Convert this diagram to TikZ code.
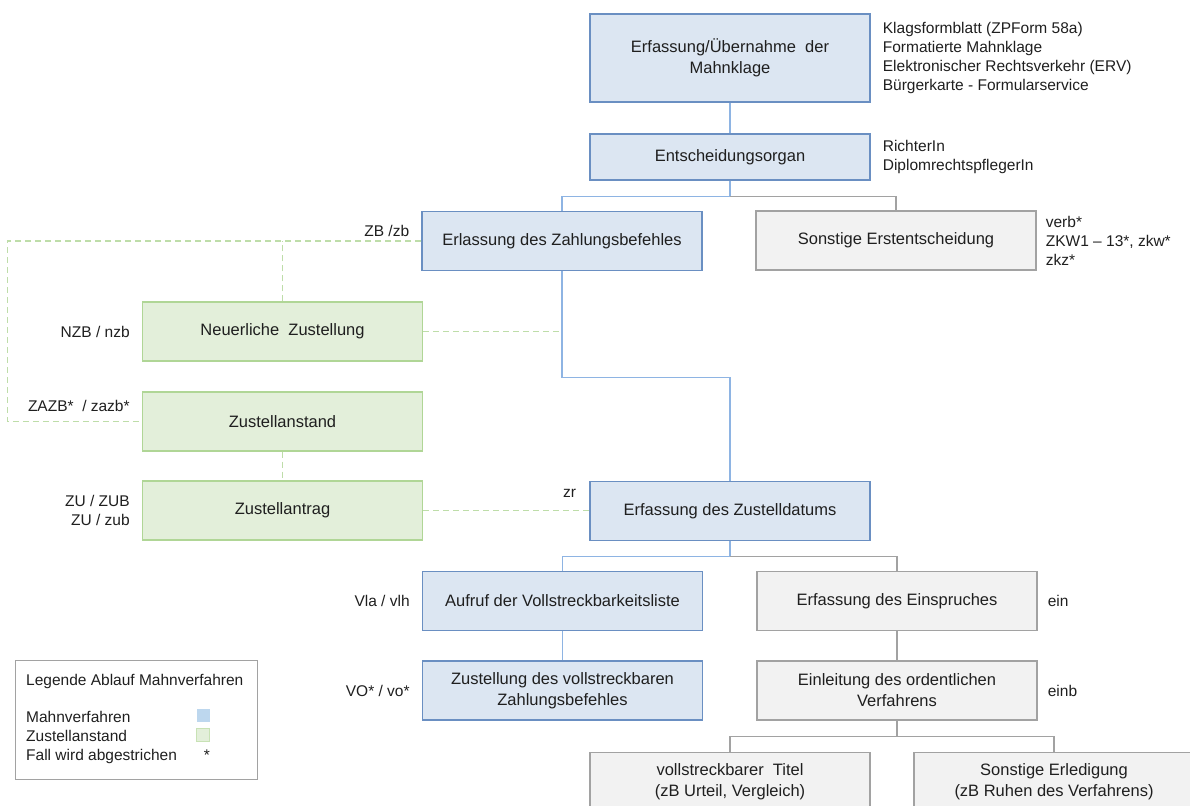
\documentclass[tikz,border=0pt]{standalone}
\usepackage{fontspec}
\setmainfont{Liberation Sans}

\definecolor{mvfill}{HTML}{DCE6F2}
\definecolor{mvline}{HTML}{6A8FC2}
\definecolor{mvconn}{HTML}{8EB4E3}
\definecolor{zafill}{HTML}{E3EFDA}
\definecolor{zaline}{HTML}{B0D696}
\definecolor{zadash}{HTML}{BEDDA9}
\definecolor{sofill}{HTML}{F2F2F2}
\definecolor{soline}{HTML}{A2A2A2}
\definecolor{legblue}{HTML}{BDD7EE}
\definecolor{txt}{HTML}{1F1F1F}

\tikzset{
  box/.style={minimum width=280, minimum height=59, inner sep=0, align=center,
    font=\fontsize{16.5}{21}\selectfont, text=txt, line width=1.3pt},
  mv/.style={box, fill=mvfill, draw=mvline},
  za/.style={box, fill=zafill, draw=zaline},
  so/.style={box, fill=sofill, draw=soline},
  lab/.style={inner sep=0, align=left, font=\fontsize{15.5}{19}\selectfont, text=txt},
  mvlink/.style={draw=mvconn, line width=1.2pt},
  solink/.style={draw=soline, line width=1.2pt},
  zalink/.style={draw=zadash, line width=1.2pt, dash pattern=on 6pt off 4pt},
}

\begin{document}
\begin{tikzpicture}[x=1pt,y=-1pt]
\useasboundingbox (0,0) rectangle (1190,805);
\clip (0,0) rectangle (1190,805);

% boxes
\node[mv, minimum height=88] (erfassung) at (730,58) {Erfassung/Übernahme\ \ der\\Mahnklage};
\node[mv, minimum height=46] (organ) at (730,157) {Entscheidungsorgan};
\node[mv] (erlassung) at (562,241) {Erlassung des Zahlungsbefehles};
\node[so] (sonstige) at (896,240.5) {Sonstige Erstentscheidung};
\node[za] (neuzust) at (282.5,331.5) {Neuerliche\ \ Zustellung};
\node[za] (anstand) at (282.5,421.5) {Zustellanstand};
\node[za] (antrag) at (282.5,510.5) {Zustellantrag};
\node[mv] (zustdat) at (730,511) {Erfassung des Zustelldatums};
\node[mv] (vliste) at (562.5,601) {Aufruf der Vollstreckbarkeitsliste};
\node[so] (einspruch) at (897,601) {Erfassung des Einspruches};
\node[mv] (vollzb) at (562.5,690.5) {Zustellung des vollstreckbaren\\Zahlungsbefehles};
\node[so] (ordentl) at (897,690.5) {Einleitung des ordentlichen\\Verfahrens};
\node[so] (titel) at (730,782) {vollstreckbarer\ \ Titel\\(zB Urteil, Vergleich)};
\node[so] (erledigung) at (1054,782) {Sonstige Erledigung\\(zB Ruhen des Verfahrens)};

% connectors
\draw[mvlink] (erfassung) -- (organ);
\draw[mvlink] (organ.south) -- ++(0,16) -| (erlassung.north);
\draw[solink] (organ.south) ++(0,16) -| (sonstige.north);
\draw[mvlink] (erlassung.south) -- ++(0,106) -| (zustdat.north);
\draw[zalink] (erlassung.west) -- ++(-414,0) |- (anstand.west);
\draw[zalink] (neuzust.north) -- (neuzust.north |- erlassung.west);
\draw[zalink] (neuzust.east) -- (neuzust.east -| erlassung.south);
\draw[zalink] (anstand) -- (antrag);
\draw[zalink] (antrag.east) -- (antrag.east -| zustdat.west);
\draw[mvlink] (zustdat.south) -- ++(0,15) -| (vliste.north);
\draw[solink] (zustdat.south) ++(0,15) -| (einspruch.north);
\draw[mvlink] (vliste) -- (vollzb);
\draw[solink] (einspruch) -- (ordentl);
\draw[solink] (ordentl.south) -- ++(0,16) -| (titel.north);
\draw[solink] (ordentl.south) ++(0,16) -| (erledigung.north);

% codes and notes
\node[lab, anchor=west] (formen) at ([xshift=12]erfassung.east) {Klagsformblatt (ZPForm 58a)\\Formatierte Mahnklage\\Elektronischer Rechtsverkehr (ERV)\\Bürgerkarte - Formularservice};
\node[lab, anchor=west] (organe) at ([xshift=12]organ.east) {RichterIn\\DiplomrechtspflegerIn};
\node[lab, anchor=west] (erstcodes) at ([xshift=9]sonstige.east) {verb*\\ZKW1 -- 13*, zkw*\\zkz*};
\node[lab, anchor=base east] (zbcode) at ([xshift=-12,yshift=5]erlassung.west) {ZB /zb};
\node[lab, anchor=east] (nzbcode) at ([xshift=-12]neuzust.west) {NZB / nzb};
\node[lab, anchor=base east] (zazbcode) at ([xshift=-12,yshift=10]anstand.west) {ZAZB*\ \ / zazb*};
\node[lab, anchor=east, align=right] (zucode) at ([xshift=-12]antrag.west) {ZU / ZUB\\ZU / zub};
\node[lab, anchor=base east] (zrcode) at ([xshift=-13,yshift=14]zustdat.west) {zr};
\node[lab, anchor=east] (vlcode) at ([xshift=-12]vliste.west) {Vla / vlh};
\node[lab, anchor=east] (vocode) at ([xshift=-12]vollzb.west) {VO*\ / vo*};
\node[lab, anchor=west] (eincode) at ([xshift=10]einspruch.east) {ein};
\node[lab, anchor=west] (einbcode) at ([xshift=10]ordentl.east) {einb};

% legend
\node[draw=soline, line width=1.2pt, minimum width=242, minimum height=119, anchor=north west] (legende) at (15,660) {};
\node[lab, anchor=west] (legtitel) at (26,681) {Legende Ablauf Mahnverfahren};
\node[lab, anchor=west] (legitems) at (26,737) {Mahnverfahren\\Zustellanstand\\Fall wird abgestrichen};
\node[fill=legblue, minimum size=13, inner sep=0] (legmv) at (203,715.5) {};
\node[fill=zafill, draw=zaline!70, minimum size=13, inner sep=0] (legza) at (203,734.5) {};
\node[lab] (legstern) at (207,755) {*};
\end{tikzpicture}
\end{document}
